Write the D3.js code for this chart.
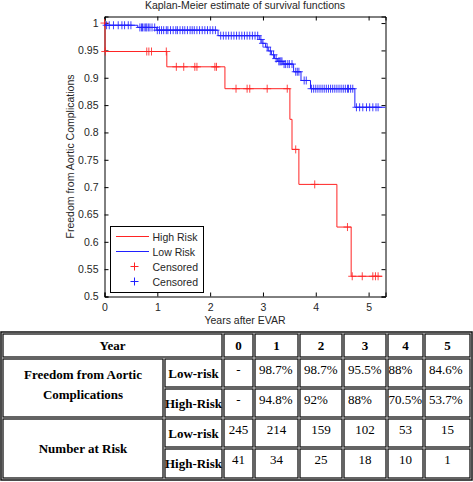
<!DOCTYPE html>
<html>
<head>
<meta charset="utf-8">
<script src="https://cdn.jsdelivr.net/npm/d3@7"></script>
<style>
  html, body { margin: 0; padding: 0; background: #fff; }
  svg { display: block; }
</style>
</head>
<body>
<script>
// ---------- DATA ----------
const chartTitle = "Kaplan-Meier estimate of survival functions";
const xLabel = "Years after EVAR";
const yLabel = "Freedom from Aortic Complications";
const xTicks = [0, 1, 2, 3, 4, 5];
const yTicks = [0.5, 0.55, 0.6, 0.65, 0.7, 0.75, 0.8, 0.85, 0.9, 0.95, 1];

// High risk (red) step curve
const highStepTimes  = [0.01, 1.18, 2.28, 3.51, 3.55, 3.68, 4.40, 4.67];
const highStepValues = [0.948, 0.92, 0.88, 0.824, 0.769, 0.705, 0.627, 0.537];
const highEnd = 5.26;
const highCensorTimes = [0, 0.015, 0.80, 0.84, 0.89, 1.17, 1.36, 1.50, 1.71, 1.75, 2.09, 2.12,
  2.49, 2.70, 2.75, 3.08, 3.46, 3.62, 3.98, 4.60, 4.69, 4.88, 5.08, 5.13, 5.18];

// Low risk (blue) step curve
const lowStepTimes  = [0.02, 0.63, 0.99, 2.15, 2.93, 2.98, 3.05, 3.10, 3.16, 3.22, 3.28, 3.38, 3.58, 3.72, 3.90, 4.74];
const lowStepValues = [0.996, 0.992, 0.987, 0.977, 0.970, 0.963, 0.956, 0.949, 0.942, 0.935, 0.930, 0.925, 0.911, 0.895, 0.880, 0.846];
const lowEnd = 5.32;
const lowCensorTimes = [0.04, 0.09, 0.17, 0.26, 0.33, 0.38, 0.45, 0.5,
  0.67, 0.7, 0.72, 0.75, 0.78, 0.8, 0.83, 0.86, 0.9, 0.95,
  1.0, 1.04, 1.08, 1.12, 1.17, 1.2, 1.25, 1.3, 1.35, 1.38, 1.43, 1.48, 1.52, 1.57, 1.62, 1.66, 1.7, 1.75, 1.8, 1.85, 1.9, 1.95, 2.0, 2.05, 2.1,
  2.2, 2.25, 2.3, 2.35, 2.4, 2.45, 2.5, 2.55, 2.6, 2.65, 2.7, 2.75, 2.8, 2.85, 2.9,
  2.96, 3.0, 3.08, 3.14, 3.2, 3.25, 3.3, 3.32, 3.34, 3.36, 3.4, 3.43, 3.47, 3.5, 3.55, 3.62, 3.65, 3.68, 3.78, 3.82,
  3.92, 3.96, 4.0, 4.04, 4.08, 4.12, 4.16, 4.2, 4.24, 4.28, 4.32, 4.36, 4.4, 4.44, 4.48, 4.52, 4.56, 4.6, 4.62, 4.66, 4.7,
  4.77, 4.83, 4.89, 4.96, 5.02, 5.08, 5.14, 5.18];

const legendLabels = ["High Risk", "Low Risk", "Censored", "Censored"];

// Table data
const tableYears = ["0", "1", "2", "3", "4", "5"];
const freedomLow  = ["-", "98.7%", "98.7%", "95.5%", "88%", "84.6%"];
const freedomHigh = ["-", "94.8%", "92%", "88%", "70.5%", "53.7%"];
const atRiskLow   = ["245", "214", "159", "102", "53", "15"];
const atRiskHigh  = ["41", "34", "25", "18", "10", "1"];

// ---------- CHART ----------
const W = 473, H = 482;
const svg = d3.select("body").append("svg").attr("width", W).attr("height", H);

const plot = { left: 104.5, right: 385.5, top: 16.5, bottom: 296.5 };
const x = d3.scaleLinear().domain([0, 5.32]).range([plot.left, plot.right]);
const y = d3.scaleLinear().domain([0.5, 1.012]).range([plot.bottom, plot.top]);

const RED = "#ff2424", BLUE = "#2020ff";
const font = "'Liberation Sans', Arial, Helvetica, sans-serif";
const textCol = "#262626";

// axes box with inward ticks
const g = svg.append("g");
g.append("g").attr("transform", `translate(0,${plot.bottom})`)
  .call(d3.axisBottom(x).tickValues(xTicks).tickSize(-4).tickPadding(7).tickFormat(d3.format("d")));
g.append("g").attr("transform", `translate(0,${plot.top})`)
  .call(d3.axisTop(x).tickValues(xTicks).tickSize(-4).tickFormat(""));
g.append("g").attr("transform", `translate(${plot.left},0)`)
  .call(d3.axisLeft(y).tickValues(yTicks).tickSize(-4).tickPadding(6).tickFormat(d => d3.format("")(+d.toFixed(2))));
g.append("g").attr("transform", `translate(${plot.right},0)`)
  .call(d3.axisRight(y).tickValues(yTicks).tickSize(-4).tickFormat(""));
g.selectAll(".domain").attr("stroke", "#000").attr("stroke-width", 1);
g.selectAll(".tick line").attr("stroke", "#000");
g.selectAll(".tick text").attr("font-family", font).attr("font-size", 10.5).attr("fill", textCol);

// step path builder
function stepPoints(times, values, end) {
  const pts = [[0, 1]];
  times.forEach((t, i) => pts.push([t, values[i]]));
  pts.push([end, values[values.length - 1]]);
  return pts;
}
function survAt(times, values, t) {
  let v = 1;
  times.forEach((s, i) => { if (s <= t) v = values[i]; });
  return v;
}
const line = d3.line().curve(d3.curveStepAfter).x(d => x(d[0])).y(d => y(d[1]));

const curves = [
  { times: highStepTimes, values: highStepValues, end: highEnd, censor: highCensorTimes, color: RED },
  { times: lowStepTimes, values: lowStepValues, end: lowEnd, censor: lowCensorTimes, color: BLUE }
];

curves.forEach(c => {
  svg.append("path").datum(stepPoints(c.times, c.values, c.end))
    .attr("d", line).attr("fill", "none").attr("stroke", c.color).attr("stroke-width", 1);
});
const ms = 4;
curves.forEach(c => {
  svg.append("g").selectAll("path").data(c.censor).join("path")
    .attr("d", t => {
      const cx = x(t), cy = y(survAt(c.times, c.values, t));
      return `M${cx - ms},${cy}H${cx + ms}M${cx},${cy - ms}V${cy + ms}`;
    })
    .attr("stroke", c.color).attr("stroke-width", 1).attr("fill", "none").attr("stroke-opacity", 0.85);
});

// title and labels
svg.append("text").attr("x", (plot.left + plot.right) / 2).attr("y", 9)
  .attr("text-anchor", "middle").attr("font-family", font).attr("font-size", 10.5).attr("fill", textCol)
  .text(chartTitle);
svg.append("text").attr("x", (plot.left + plot.right) / 2).attr("y", 324)
  .attr("text-anchor", "middle").attr("font-family", font).attr("font-size", 10.5).attr("fill", textCol)
  .text(xLabel);
svg.append("text").attr("transform", `translate(74,${(plot.top + plot.bottom) / 2}) rotate(-90)`)
  .attr("text-anchor", "middle").attr("font-family", font).attr("font-size", 10.5).attr("fill", textCol)
  .text(yLabel);

// legend
const leg = svg.append("g");
leg.append("rect").attr("x", 110.5).attr("y", 226.5).attr("width", 93).attr("height", 66)
  .attr("fill", "#fff").attr("stroke", "#000").attr("stroke-width", 1);
const legColors = [RED, BLUE, RED, BLUE];
legendLabels.forEach((lab, i) => {
  const ly = 236.5 + i * 15;
  if (i < 2) {
    leg.append("line").attr("x1", 116).attr("x2", 149).attr("y1", ly).attr("y2", ly)
      .attr("stroke", legColors[i]).attr("stroke-width", 1);
  } else {
    leg.append("path").attr("d", `M${134.5 - ms},${ly}H${134.5 + ms}M${134.5},${ly - ms}V${ly + ms}`)
      .attr("stroke", legColors[i]).attr("stroke-width", 1);
  }
  leg.append("text").attr("x", 152.5).attr("y", ly + 4).attr("font-family", font)
    .attr("font-size", 10.5).attr("fill", textCol).text(lab);
});

// ---------- TABLE ----------
const serif = "'Liberation Serif', 'Times New Roman', serif";
const colEdges = [2, 164, 223, 254, 299, 343, 387, 424, 471];
const rowEdges = [333, 358, 388, 418, 448, 479];
const tbl = svg.append("g");

function cell(c0, c1, r0, r1, lines, bold, valign, align) {
  const x0 = colEdges[c0], x1 = colEdges[c1], y0 = rowEdges[r0], y1 = rowEdges[r1];
  tbl.append("rect").attr("x", x0 + 1).attr("y", y0 + 1).attr("width", x1 - x0 - 2).attr("height", y1 - y0 - 2)
    .attr("fill", "none").attr("stroke", "#111").attr("stroke-width", 1.3);
  const cy = valign === "top" ? y0 + 16 : (y0 + y1) / 2 + 4.5 - (lines.length > 1 ? 14 : 0);
  const pad = Math.max(1.5, Math.min(5, (x1 - x0 - 34) / 2));
  lines.forEach((t, i) => {
    tbl.append("text")
      .attr("x", align === "left" ? x0 + pad : (x0 + x1) / 2).attr("y", cy + i * 20)
      .attr("text-anchor", align === "left" ? "start" : "middle")
      .attr("font-family", serif).attr("font-size", 13)
      .attr("font-weight", bold ? "bold" : "normal").attr("fill", "#000").text(t);
  });
}
tbl.append("rect").attr("x", 1).attr("y", 332).attr("width", 471).attr("height", 148)
  .attr("fill", "none").attr("stroke", "#111").attr("stroke-width", 1.5);

const pctAlign = v => (v.includes("%") ? "left" : "center");
cell(0, 2, 0, 1, ["Year"], true);
tableYears.forEach((yr, i) => cell(2 + i, 3 + i, 0, 1, [yr], true));
cell(0, 1, 1, 3, ["Freedom from Aortic", "Complications"], true);
cell(0, 1, 3, 5, ["Number at Risk"], true);
cell(1, 2, 1, 2, ["Low-risk"], true);
cell(1, 2, 2, 3, ["High-Risk"], true);
cell(1, 2, 3, 4, ["Low-risk"], true);
cell(1, 2, 4, 5, ["High-Risk"], true);
freedomLow.forEach((v, i) => cell(2 + i, 3 + i, 1, 2, [v], false, "top", pctAlign(v)));
freedomHigh.forEach((v, i) => cell(2 + i, 3 + i, 2, 3, [v], false, "top", pctAlign(v)));
atRiskLow.forEach((v, i) => cell(2 + i, 3 + i, 3, 4, [v], false, "top"));
atRiskHigh.forEach((v, i) => cell(2 + i, 3 + i, 4, 5, [v], false, "top"));
</script>
</body>
</html>
